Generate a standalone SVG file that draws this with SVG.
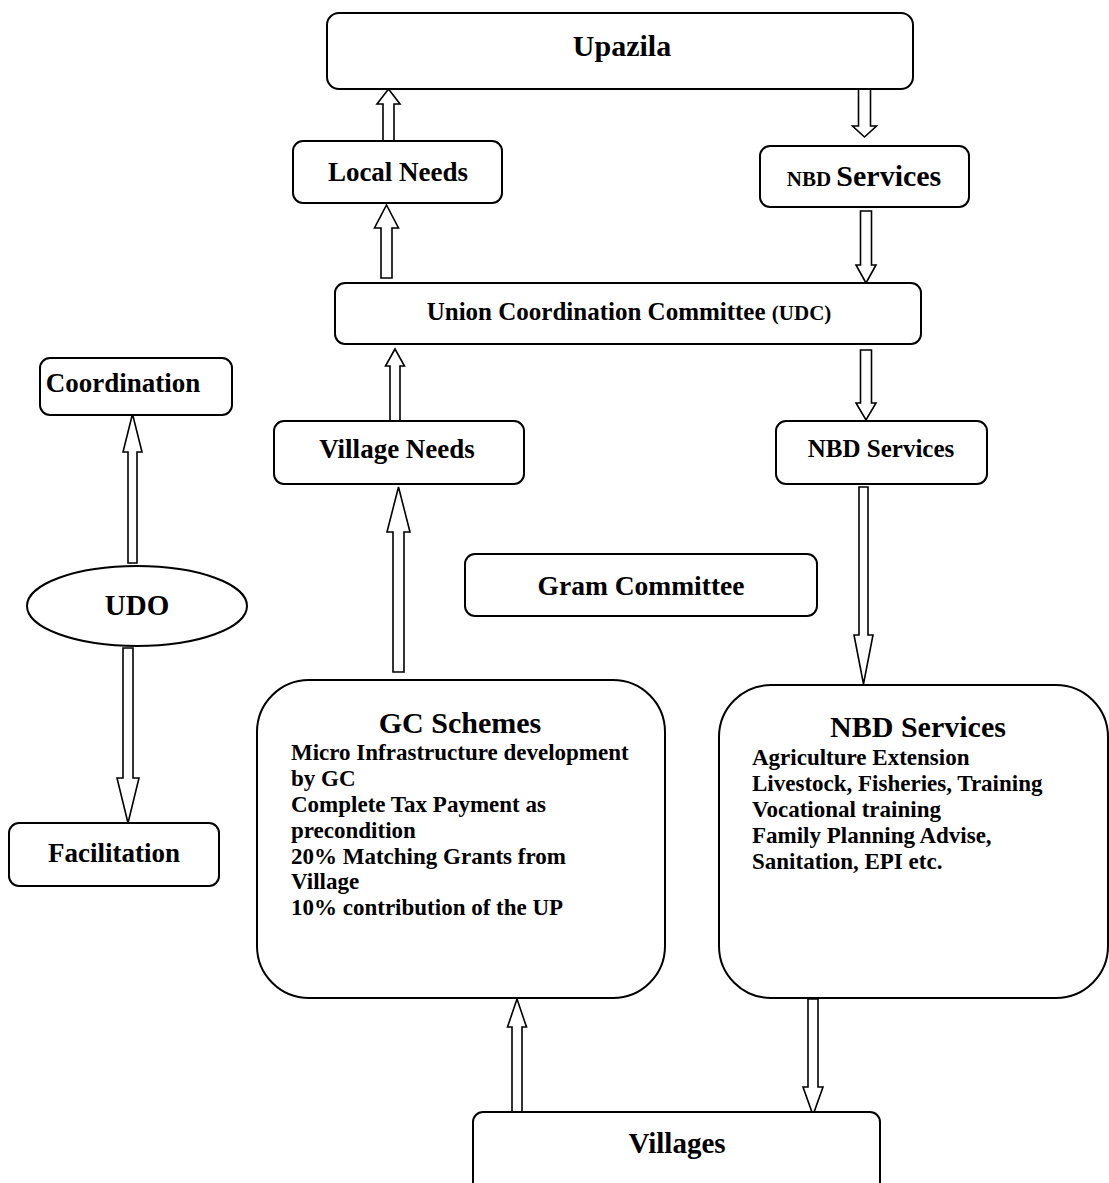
<svg xmlns="http://www.w3.org/2000/svg" width="1109" height="1183" viewBox="0 0 1109 1183">
<style>
.box{fill:#fff;stroke:#000;stroke-width:2}
.arr{fill:#fff;stroke:#000;stroke-width:1.6;stroke-linejoin:miter}
text{font-family:"Liberation Serif","Times New Roman",serif;font-weight:bold;fill:#000}
.c{text-anchor:middle}
.l{font-size:27px}
.item{font-size:23px}
</style>
<rect width="1109" height="1183" fill="#fff"/>
<g id="connectors">
<polygon class="arr" points="388.5,89 400,104 394,104 394,141 383,141 383,104 377,104"/>
<polygon class="arr" points="858.5,89 870.5,89 870.5,126 876.5,126 864.5,137 852.5,126 858.5,126"/>
<polygon class="arr" points="386.5,205 398.5,228 392,228 392,278 381,278 381,228 374.5,228"/>
<polygon class="arr" points="860.5,211 871.5,211 871.5,265 876,265 866,283 856,265 860.5,265"/>
<polygon class="arr" points="395,349 404.5,366 400,366 400,421 390,421 390,366 385.5,366"/>
<polygon class="arr" points="860.5,350 871.5,350 871.5,403 876,403 866,420 856,403 860.5,403"/>
<polygon class="arr" points="132.5,414 142,452 137,452 137,563 128,563 128,452 123,452"/>
<polygon class="arr" points="123,648 133,648 133,778 139,778 128,823 117,778 123,778"/>
<polygon class="arr" points="398.5,487 410,532 404,532 404,672 393,672 393,532 387,532"/>
<polygon class="arr" points="859,487 868,487 868,635 873,635 863.5,684 854,635 859,635"/>
<polygon class="arr" points="517,999 526.5,1027 522,1027 522,1115 512,1115 512,1027 507.5,1027"/>
<polygon class="arr" points="808,999 818,999 818,1087 823,1087 813,1115 803,1087 808,1087"/>
</g>
<g id="upazila">
<rect class="box" x="327" y="13" width="586" height="76" rx="12"/>
<text class="c" x="622" y="56" style="font-size:30px">Upazila</text>
</g>
<g id="local-needs">
<rect class="box" x="293" y="141" width="209" height="62" rx="10"/>
<text class="c l" x="398" y="181">Local Needs</text>
</g>
<g id="nbd-top">
<rect class="box" x="760" y="146" width="209" height="61" rx="10"/>
<text class="c" x="864" y="186"><tspan style="font-size:21px">NBD </tspan><tspan style="font-size:30px">Services</tspan></text>
</g>
<g id="ucc">
<rect class="box" x="335" y="283" width="586" height="61" rx="10"/>
<text class="c" x="629" y="320" style="font-size:25px">Union Coordination Committee <tspan style="font-size:21px">(UDC)</tspan></text>
</g>
<g id="coordination">
<rect class="box" x="40" y="358" width="192" height="57" rx="10"/>
<text class="c l" x="123" y="392">Coordination</text>
</g>
<g id="village-needs">
<rect class="box" x="274" y="421" width="250" height="63" rx="10"/>
<text class="c l" x="397" y="458">Village Needs</text>
</g>
<g id="nbd-mid">
<rect class="box" x="776" y="421" width="211" height="63" rx="10"/>
<text class="c" x="881" y="457" style="font-size:25px">NBD Services</text>
</g>
<g id="udo">
<ellipse class="box" cx="137" cy="606" rx="110" ry="40"/>
<text class="c" x="137" y="615" style="font-size:29px">UDO</text>
</g>
<g id="gram-committee">
<rect class="box" x="465" y="554" width="352" height="62" rx="10"/>
<text class="c" x="641" y="595" style="font-size:27.5px">Gram Committee</text>
</g>
<g id="facilitation">
<rect class="box" x="9" y="823" width="210" height="63" rx="10"/>
<text class="c l" x="114" y="862">Facilitation</text>
</g>
<g id="gc-schemes">
<rect class="box" x="257" y="680" width="408" height="318" rx="52"/>
<text class="c" x="460" y="733" style="font-size:30px">GC Schemes</text>
<text class="item" x="291" y="760">Micro Infrastructure development</text>
<text class="item" x="291" y="786">by GC</text>
<text class="item" x="291" y="812">Complete Tax Payment as</text>
<text class="item" x="291" y="838">precondition</text>
<text class="item" x="291" y="864">20% Matching Grants from</text>
<text class="item" x="291" y="889">Village</text>
<text class="item" x="291" y="915">10% contribution of the UP</text>
</g>
<g id="nbd-services">
<rect class="box" x="719" y="685" width="389" height="313" rx="52"/>
<text class="c" x="918" y="737" style="font-size:30px">NBD Services</text>
<text class="item" x="752" y="765">Agriculture Extension</text>
<text class="item" x="752" y="791">Livestock, Fisheries, Training</text>
<text class="item" x="752" y="817">Vocational training</text>
<text class="item" x="752" y="843">Family Planning Advise,</text>
<text class="item" x="752" y="869">Sanitation, EPI etc.</text>
</g>
<g id="villages">
<rect class="box" x="473" y="1112" width="407" height="90" rx="10"/>
<text class="c" x="677" y="1153" style="font-size:29px">Villages</text>
</g>
</svg>
